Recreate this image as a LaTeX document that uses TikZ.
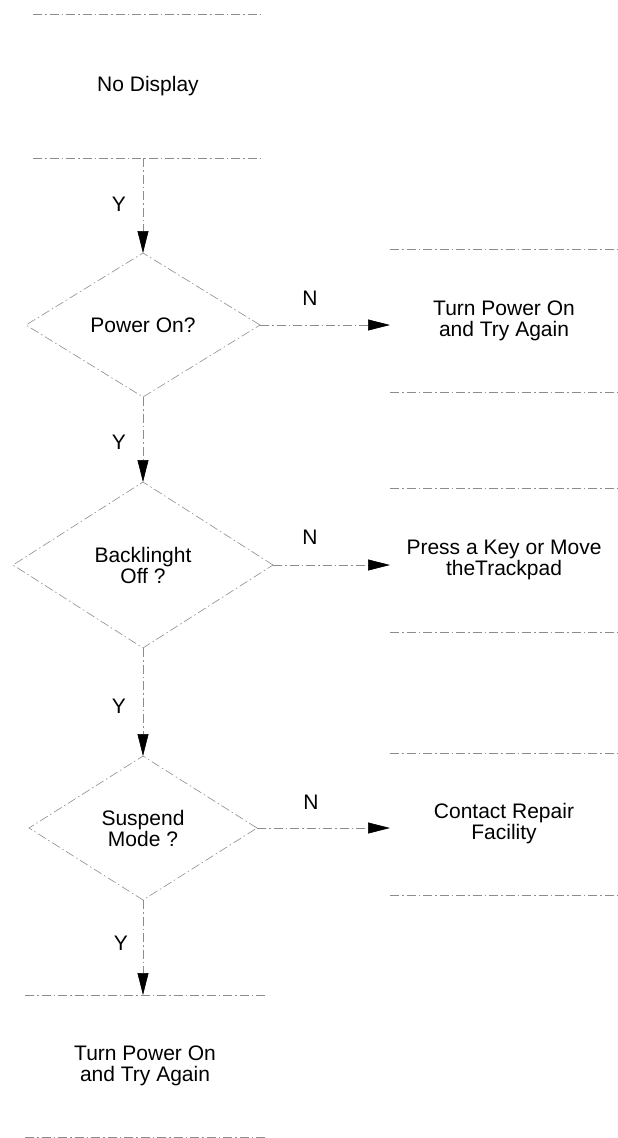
\documentclass[tikz,border=0pt]{standalone}
\usepackage{fontspec}
\setmainfont{Liberation Sans}
\usetikzlibrary{arrows.meta,positioning,shapes.geometric}
\definecolor{scangray}{RGB}{140,140,140}

\begin{document}
\begin{tikzpicture}[
  x=1pt,y=-1pt,
  faint/.style={draw=scangray,line width=0.6pt,
    dash pattern=on 9pt off 3pt on 1.5pt off 3pt},
  flow/.style={faint,-{Triangle[length=22pt,width=11pt,color=black]}},
  decision/.style={diamond,minimum height=144pt,inner sep=0pt,outer sep=0pt,
    align=center,font=\fontsize{21}{21}\selectfont},
  stepbox/.style={rectangle,minimum width=228pt,minimum height=143pt,
    inner sep=0pt,outer sep=0pt,align=center,font=\fontsize{21}{21}\selectfont},
  answer/.style={font=\fontsize{21}{21}\selectfont}
]
\useasboundingbox (0,0) rectangle (618,1138);

% left column
\node[stepbox,minimum width=230pt,minimum height=144pt] (start) at (148,86) {No Display};
\node[decision,faint,minimum width=234pt] (power) at (143,325) {Power On?};
\node[decision,faint,minimum width=260pt,minimum height=166pt] (backlight) at (143,565)
  {Backlinght\\Off ?};
\node[decision,faint,minimum width=228pt] (suspend) at (143,828) {Suspend\\Mode ?};
\node[stepbox,minimum width=240pt,minimum height=142pt] (retry) at (145,1066)
  {Turn Power On\\and Try Again};

% right column
\node[stepbox] (poweron) at (504,321) {Turn Power On\\and Try Again};
\node[stepbox,minimum height=144pt] (presskey) at (504,560) {Press a Key or Move\\theTrackpad};
\node[stepbox,minimum height=142pt] (repair) at (504,824) {Contact Repair\\Facility};

% box edges (only top and bottom survive in the scan)
\foreach \b in {start,retry,poweron,presskey,repair}
  \draw[faint] (\b.north west) -- (\b.north east) (\b.south west) -- (\b.south east);

% yes branch
\draw[flow] (power.north |- start.south) -- (power.north);
\draw[flow] (power.south) -- (backlight.north);
\draw[flow] (backlight.south) -- (suspend.north);
\draw[flow] (suspend.south) -- (suspend.south |- retry.north);

% no branch
\draw[flow] (power.east) -- (power.east -| poweron.west);
\draw[flow] (backlight.east) -- (backlight.east -| presskey.west);
\draw[flow] (suspend.east) -- (suspend.east -| repair.west);

% labels
\node[answer] (y1) at (119,204) {Y};
\node[answer] (y2) at (119,442) {Y};
\node[answer] (y3) at (119,706) {Y};
\node[answer] (y4) at (121,943) {Y};
\node[answer] (n1) at (310,298) {N};
\node[answer] (n2) at (310,537) {N};
\node[answer] (n3) at (311,802) {N};
\end{tikzpicture}
\end{document}
